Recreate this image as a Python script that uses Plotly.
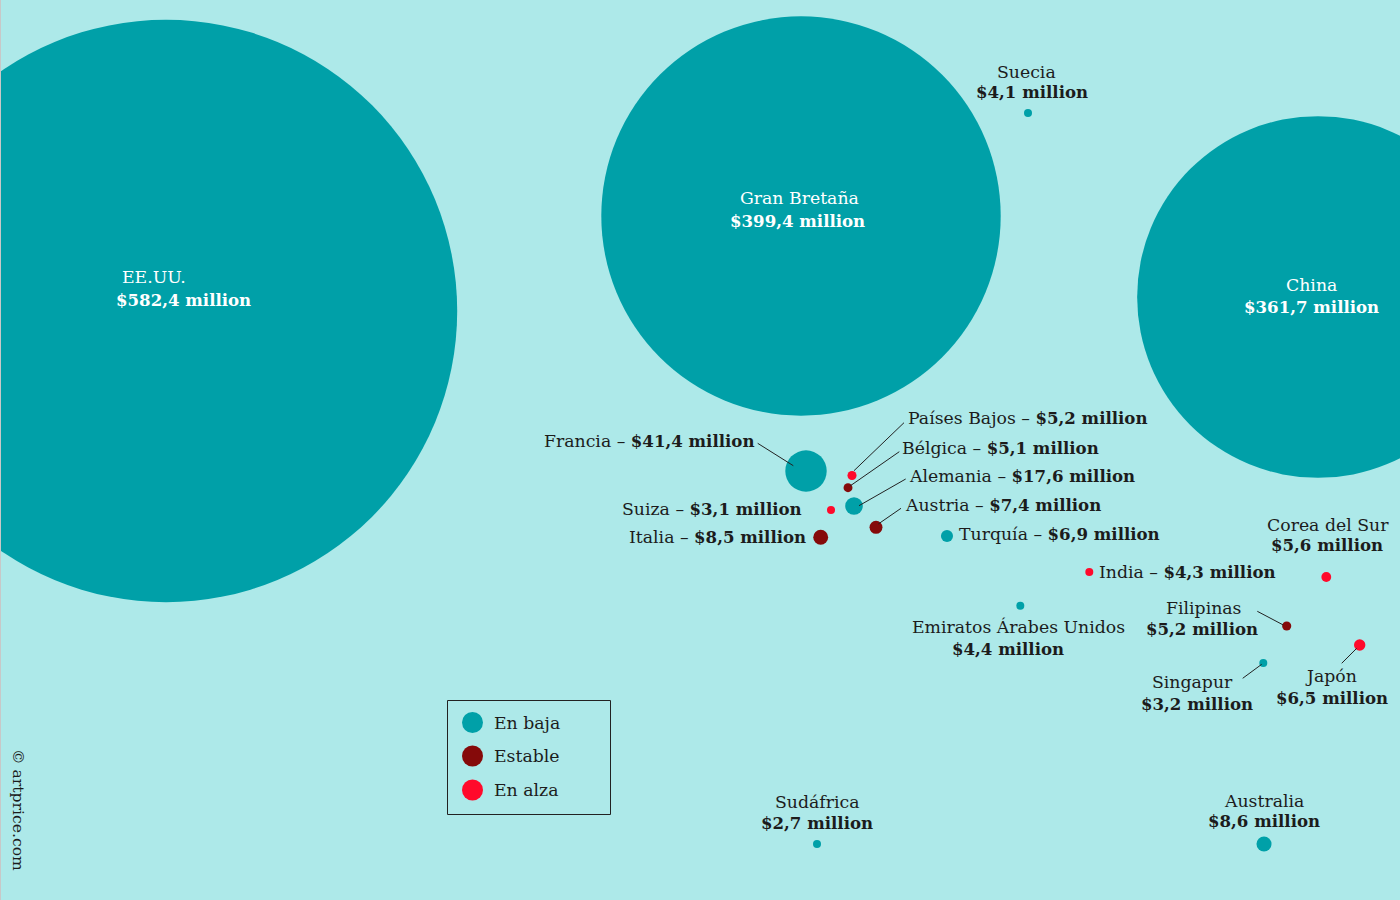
import plotly.graph_objects as go

# Art market by country (artprice) - bubble positions are read in picture pixels
countries = ["EE.UU.", "Gran Bretaña", "China", "Suecia", "Francia", "Países Bajos", "Bélgica",
             "Alemania", "Suiza", "Italia", "Austria", "Turquía", "India", "Corea del Sur",
             "Emiratos Árabes Unidos", "Filipinas", "Singapur", "Japón", "Sudáfrica", "Australia"]
values = [582.4, 399.4, 361.7, 4.1, 41.4, 5.2, 5.1, 17.6, 3.1, 8.5, 7.4, 6.9, 4.3, 5.6,
          4.4, 5.2, 3.2, 6.5, 2.7, 8.6]
status = ["En baja", "En baja", "En baja", "En baja", "En baja", "En alza", "Estable",
          "En baja", "En alza", "Estable", "Estable", "En baja", "En alza", "En alza",
          "En baja", "Estable", "En baja", "En alza", "En baja", "En baja"]
x_pos = [166, 801, 1318, 1028, 806, 852, 848, 854, 831, 820.7, 876, 947, 1089.3, 1326.3,
         1020.3, 1286.7, 1263.3, 1359.7, 817, 1264]
y_pos = [311, 216, 297, 113, 471, 475.5, 487.7, 506, 510, 537.3, 527.3, 536, 572, 577,
         605.7, 626, 663, 645, 844, 844]

status_order = ["En baja", "Estable", "En alza"]
status_colors = {"En baja": "#00A0A8", "Estable": "#850A0A", "En alza": "#FF0A2B"}

# two line labels: country, name x, name y, value x, value y
stacked_labels = [
    ("EE.UU.", 154, 277, 183, 300),
    ("Gran Bretaña", 799, 198, 797, 221),
    ("China", 1311, 285, 1311, 307),
    ("Suecia", 1026, 72, 1032, 92),
    ("Corea del Sur", 1328, 525, 1327, 545),
    ("Emiratos Árabes Unidos", 1018, 627, 1008, 649),
    ("Filipinas", 1203, 608, 1202, 629),
    ("Singapur", 1192, 682, 1197, 704),
    ("Japón", 1331, 676, 1332, 698),
    ("Sudáfrica", 817, 802, 817, 823),
    ("Australia", 1264, 801, 1264, 821),
]
# one line labels: country, x, y, anchor
inline_labels = [
    ("Francia", 756, 441, "right"),
    ("Países Bajos", 906, 418, "left"),
    ("Bélgica", 900, 448, "left"),
    ("Alemania", 907, 476, "left"),
    ("Suiza", 804, 509, "right"),
    ("Italia", 808, 537, "right"),
    ("Austria", 903, 505, "left"),
    ("Turquía", 957, 534, "left"),
    ("India", 1097, 572, "left"),
]
# leader lines: label end x, y, bubble end x, y
leaders = [
    (757.7, 443.3, 793.3, 465.7),
    (904, 422.7, 854, 470.7),
    (899.3, 451.7, 850, 486),
    (905.7, 479, 859, 505.7),
    (901, 508.3, 878.3, 524),
    (1257.3, 611.3, 1283.3, 625),
    (1242.7, 678.3, 1261.7, 664.3),
    (1341.7, 663.3, 1356.7, 648.3),
]

FONT = "DejaVu Serif"
NAME_SIZE = 17.3
VALUE_SIZE = 16.6
TEXT = "#1c1c1c"
BG = "#ADE9E9"


def money(v):
    return "$" + f"{v:.1f}".replace(".", ",") + " million"


def bold_money(v):
    return f'<span style="font-size:{VALUE_SIZE}px"><b>{money(v)}</b></span>'


# big bubbles are drawn at their value, the small ones are scaled up so they stay visible
def diameter(v):
    if v >= 17:
        return v
    return max(8, 1.75 * v)


fig = go.Figure()

for s in status_order:
    idx = [i for i, st in enumerate(status) if st == s]
    fig.add_trace(go.Scatter(
        x=[x_pos[i] for i in idx],
        y=[y_pos[i] for i in idx],
        mode="markers",
        name=s,
        text=[countries[i] for i in idx],
        cliponaxis=False,
        marker=dict(color=status_colors[s], opacity=1, size=[diameter(values[i]) for i in idx],
                    sizemode="diameter", line=dict(width=0)),
    ))

value_of = dict(zip(countries, values))

for name, nx, ny, vx, vy in stacked_labels:
    color = "white" if value_of[name] > 100 else TEXT
    fig.add_annotation(x=nx, y=ny, text=name, showarrow=False, font=dict(color=color))
    fig.add_annotation(x=vx, y=vy, text=bold_money(value_of[name]), showarrow=False,
                       font=dict(color=color))

for name, lx, ly, anchor in inline_labels:
    fig.add_annotation(x=lx, y=ly, text=name + " – " + bold_money(value_of[name]),
                       showarrow=False, xanchor=anchor, font=dict(color=TEXT))

for x0, y0, x1, y1 in leaders:
    fig.add_shape(type="line", x0=x0, y0=y0, x1=x1, y1=y1, line=dict(color="#222222", width=1))

# thin edge at the far left of the image
fig.add_shape(type="line", x0=0.5, y0=0, x1=0.5, y1=900, line=dict(color="#c8c8c8", width=1))

fig.add_annotation(x=18, y=810, text="© artprice.com", textangle=90, showarrow=False,
                   font=dict(color=TEXT, size=15.6))

# legend box, drawn by hand because the built-in legend caps its marker size
fig.add_shape(type="rect", x0=447.5, y0=700.5, x1=610.5, y1=814.5,
              line=dict(color="#222222", width=1))
for s, row_y in zip(status_order, [722.5, 756, 790]):
    fig.add_shape(type="circle", x0=462, y0=row_y - 10.5, x1=483, y1=row_y + 10.5,
                  fillcolor=status_colors[s], line=dict(width=0))
    fig.add_annotation(x=492, y=row_y, text=s, showarrow=False, xanchor="left",
                       font=dict(color=TEXT))

fig.update_layout(
    width=1400,
    height=900,
    margin=dict(l=0, r=0, t=0, b=0),
    paper_bgcolor=BG,
    plot_bgcolor=BG,
    font=dict(family=FONT, size=NAME_SIZE, color=TEXT),
    showlegend=False,
)
fig.update_xaxes(range=[0, 1400], visible=False)
fig.update_yaxes(range=[900, 0], visible=False)

fig.write_html("out.html", config={"displayModeBar": False},
               post_script="document.body.style.margin='0';")
